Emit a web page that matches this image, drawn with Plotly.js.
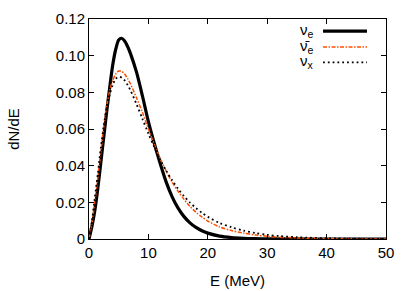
<!DOCTYPE html>
<html>
<head>
<meta charset="utf-8">
<script src="https://cdn.plot.ly/plotly-3.0.1.min.js"></script>
<style>html,body{margin:0;padding:0;background:#fff;}#chart{width:415px;height:291px;}</style>
</head>
<body>
<div id="chart"></div>
<script>
// Energy grid (MeV)
const energy = [0,0.5,1,1.5,2,2.5,3,3.5,4,4.5,5,5.5,6,6.5,7,8,9,10,11,12,13,14,15,16,17,18,19,20,22,24,26,28,30,32,35,40,45,50];
// dN/dE for nu_e
const nuE = [0,0.007,0.016,0.028,0.042,0.056,0.070,0.083,0.095,0.1035,0.1085,0.1095,0.108,0.105,0.101,0.091,0.078,0.064,0.052,0.041,0.031,0.023,0.0168,0.0122,0.0088,0.0063,0.0045,0.0032,0.0016,0.0008,0.0004,0.0002,0.0001,0.00005,0.00002,0,0,0];
// dN/dE for anti nu_e
const nuEbar = [0,0.009,0.021,0.034,0.048,0.062,0.073,0.081,0.0865,0.0900,0.0916,0.0915,0.0900,0.0875,0.0845,0.077,0.069,0.060,0.0515,0.0438,0.037,0.031,0.026,0.0216,0.0178,0.0146,0.0120,0.0098,0.0066,0.0046,0.0032,0.0022,0.0015,0.0010,0.0006,0.0002,0.00006,0.00002];
// dN/dE for nu_x
const nuX = [0,0.010,0.023,0.036,0.050,0.062,0.072,0.079,0.084,0.0875,0.0885,0.088,0.0865,0.0840,0.0810,0.0735,0.0655,0.0575,0.050,0.0432,0.0372,0.0320,0.0274,0.0234,0.0199,0.0169,0.0143,0.0121,0.0087,0.0064,0.0046,0.0033,0.0023,0.0016,0.0010,0.0004,0.00015,0.00005];

const xTicks = [0,10,20,30,40,50];
const yTicks = [0,0.02,0.04,0.06,0.08,0.10,0.12];
const yTickText = ['0','0.02','0.04','0.06','0.08','0.10','0.12'];
const legendNames = ['ν<sub>e</sub>','ν̄<sub>e</sub>','ν<sub>x</sub>'];

const orange = '#ff4d00';
const font = 'Liberation Sans, Arial, sans-serif';

const traces = [
  {x: energy, y: nuE, mode: 'lines', line: {color: '#000', width: 3.2, shape: 'spline', smoothing: 0.8}},
  {x: energy, y: nuEbar, mode: 'lines', line: {color: orange, width: 1.5, dash: '4px,1.5px,1.5px,1.5px', shape: 'spline', smoothing: 0.8}},
  {x: energy, y: nuX, mode: 'lines', line: {color: '#000', width: 1.8, dash: '1.8px,3px', shape: 'spline', smoothing: 0.8}}
];

const lineStyles = [
  {color: '#000', width: 3.2, dash: 'solid'},
  {color: orange, width: 1.5, dash: '4px,1.5px,1.5px,1.5px'},
  {color: '#000', width: 1.8, dash: '1.8px,3px'}
];
const rowY = [0.945, 0.873, 0.803];
const shapes = [];
const annotations = [];
for (let i = 0; i < 3; i++) {
  shapes.push({type: 'line', xref: 'paper', yref: 'paper', x0: 0.788, x1: 0.936, y0: rowY[i], y1: rowY[i], line: lineStyles[i]});
  annotations.push({xref: 'paper', yref: 'paper', x: 0.762, y: rowY[i] + 0.004, xanchor: 'right', yanchor: 'middle',
    text: legendNames[i], showarrow: false, borderpad: 0, font: {family: font, size: 15, color: '#000'}});
}

const layout = {
  width: 415, height: 291,
  margin: {l: 89, r: 29, t: 19, b: 52},
  paper_bgcolor: '#fff', plot_bgcolor: '#fff',
  showlegend: false,
  font: {family: font, size: 15, color: '#000'},
  xaxis: {range: [0, 50], tickvals: xTicks, ticks: 'inside', ticklen: 5, tickcolor: '#000',
    showline: true, linecolor: '#000', linewidth: 1, mirror: 'ticks', showgrid: false, zeroline: false,
    title: {text: 'E (MeV)', standoff: 15, font: {family: font, size: 15}}, automargin: false},
  yaxis: {range: [0, 0.12], tickvals: yTicks, ticktext: yTickText, ticks: 'inside', ticklen: 5, tickcolor: '#000',
    showline: true, linecolor: '#000', linewidth: 1, mirror: 'ticks', showgrid: false, zeroline: false,
    title: {text: 'dN/dE', standoff: 32, font: {family: font, size: 15}}, automargin: false},
  shapes: shapes,
  annotations: annotations
};

Plotly.newPlot('chart', traces, layout, {staticPlot: true, displayModeBar: false});
</script>
</body>
</html>
